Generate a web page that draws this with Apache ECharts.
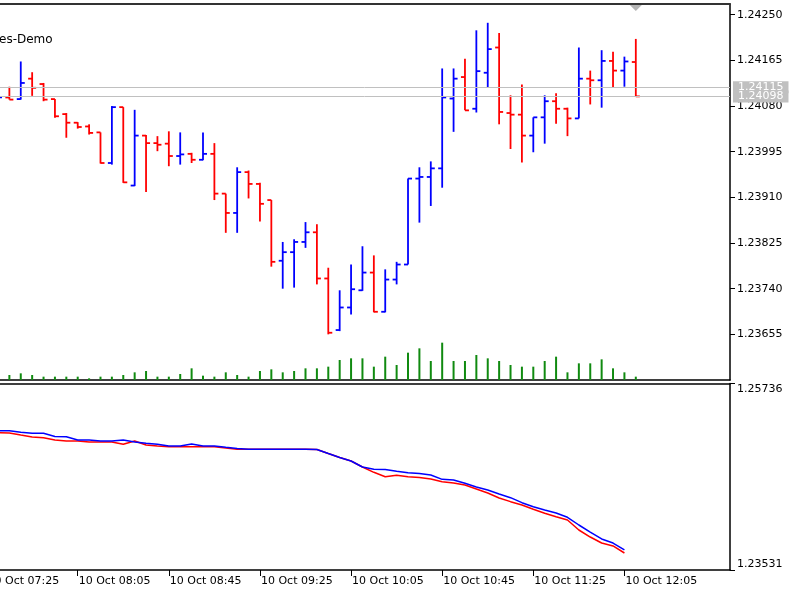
<!DOCTYPE html>
<html lang="en">
<head>
    <meta charset="UTF-8">
    <title>M5 bars</title>
    <script type="text/javascript" src="https://cdn.jsdelivr.net/npm/echarts@6/dist/echarts.min.js"></script>
    <style>
        html, body { margin: 0; padding: 0; background: #fff; }
    </style>
</head>
<body>

<div id="chart" style="width:800px;height:600px;"></div>

<script type="text/javascript">
    // bar times, 10 Oct, one bar every 5 minutes (index 1 = 07:30)
    var times = ['07:30', '07:35', '07:40', '07:45', '07:50', '07:55', '08:00', '08:05', '08:10', '08:15',
        '08:20', '08:25', '08:30', '08:35', '08:40', '08:45', '08:50', '08:55', '09:00', '09:05',
        '09:10', '09:15', '09:20', '09:25', '09:30', '09:35', '09:40', '09:45', '09:50', '09:55',
        '10:00', '10:05', '10:10', '10:15', '10:20', '10:25', '10:30', '10:35', '10:40', '10:45',
        '10:50', '10:55', '11:00', '11:05', '11:10', '11:15', '11:20', '11:25', '11:30', '11:35',
        '11:40', '11:45', '11:50', '11:55', '12:00', '12:05', '12:10'];

    var open = [1.24092, 1.24096, 1.24093, 1.24131, 1.24121, 1.24093, 1.24065, 1.24049, 1.24042, 1.24031,
        1.23974, 1.24078, 1.23932, 1.24025, 1.24011, 1.24010, 1.23987, 1.23991, 1.23980, 1.23991,
        1.23917, 1.23881, 1.23957, 1.23935, 1.23905, 1.23792, 1.23808, 1.23827, 1.23845, 1.23759,
        1.23663, 1.23705, 1.23737, 1.23770, 1.23697, 1.23757, 1.23785, 1.23945, 1.23948, 1.23964,
        1.24094, 1.24134, 1.24075, 1.24142, 1.24189, 1.24067, 1.24064, 1.24025, 1.24059, 1.24089,
        1.24075, 1.24057, 1.24131, 1.24128, 1.24164, 1.24146, 1.24162];
    var high = [1.24107, 1.24116, 1.24163, 1.24143, 1.24123, 1.24093, 1.24067, 1.24050, 1.24046, 1.24031,
        1.24080, 1.24078, 1.24073, 1.24026, 1.24024, 1.24033, 1.24031, 1.23993, 1.24031, 1.24011,
        1.23917, 1.23966, 1.23960, 1.23937, 1.23905, 1.23827, 1.23832, 1.23864, 1.23860, 1.23779,
        1.23737, 1.23785, 1.23819, 1.23802, 1.23776, 1.23790, 1.23945, 1.23966, 1.23977, 1.24150,
        1.24150, 1.24168, 1.24221, 1.24235, 1.24216, 1.24100, 1.24120, 1.24059, 1.24100, 1.24104,
        1.24077, 1.24189, 1.24146, 1.24184, 1.24181, 1.24172, 1.24205];
    var low = [1.24090, 1.24092, 1.24092, 1.24099, 1.24089, 1.24058, 1.24021, 1.24038, 1.24027, 1.23973,
        1.23971, 1.23937, 1.23931, 1.23920, 1.23996, 1.23968, 1.23971, 1.23974, 1.23979, 1.23905,
        1.23844, 1.23844, 1.23908, 1.23865, 1.23781, 1.23740, 1.23742, 1.23816, 1.23748, 1.23655,
        1.23661, 1.23692, 1.23736, 1.23696, 1.23696, 1.23748, 1.23785, 1.23863, 1.23894, 1.23928,
        1.24032, 1.24072, 1.24068, 1.24114, 1.24046, 1.24000, 1.23975, 1.23994, 1.24010, 1.24047,
        1.24024, 1.24057, 1.24083, 1.24077, 1.24114, 1.24116, 1.24098];
    var close = [1.24096, 1.24092, 1.24123, 1.24114, 1.24092, 1.24061, 1.24049, 1.24041, 1.24030, 1.23974,
        1.24078, 1.23938, 1.24025, 1.24011, 1.24008, 1.23987, 1.23990, 1.23980, 1.23991, 1.23917,
        1.23881, 1.23957, 1.23935, 1.23898, 1.23790, 1.23808, 1.23827, 1.23845, 1.23759, 1.23658,
        1.23705, 1.23739, 1.23770, 1.23697, 1.23757, 1.23785, 1.23945, 1.23948, 1.23964, 1.24096,
        1.24131, 1.24072, 1.24145, 1.24186, 1.24069, 1.24064, 1.24025, 1.24059, 1.24089, 1.24075,
        1.24057, 1.24131, 1.24128, 1.24164, 1.24146, 1.24163, 1.24098];
    var volume = [10, 15, 20, 15, 10, 10, 10, 10, 5, 10,
        10, 15, 23, 27, 10, 10, 18, 35, 13, 10,
        23, 15, 10, 27, 32, 23, 27, 35, 35, 40,
        60, 65, 65, 40, 70, 45, 82, 95, 57, 112,
        57, 57, 75, 65, 57, 45, 40, 40, 57, 70,
        23, 50, 50, 62, 35, 23, 10];

    // indicator window, 07:30 .. 12:05
    var blueLine = [1.25178, 1.25178, 1.25159, 1.25147, 1.25147, 1.25109, 1.25107, 1.25068, 1.25068, 1.25056,
        1.25056, 1.25068, 1.25044, 1.25029, 1.25017, 1.24997, 1.24997, 1.25021, 1.24997, 1.24997,
        1.24982, 1.24968, 1.24958, 1.24958, 1.24958, 1.24958, 1.24958, 1.24958, 1.24956, 1.24908,
        1.24861, 1.24820, 1.24749, 1.24722, 1.24719, 1.24698, 1.24681, 1.24672, 1.24654, 1.24603,
        1.24595, 1.24556, 1.24512, 1.24477, 1.24430, 1.24386, 1.24327, 1.24279, 1.24240, 1.24205,
        1.24154, 1.24063, 1.23980, 1.23898, 1.23850, 1.23768];
    var redLine = [1.25154, 1.25151, 1.25127, 1.25104, 1.25095, 1.25068, 1.25056, 1.25056, 1.25044, 1.25044,
        1.25044, 1.25017, 1.25056, 1.25009, 1.24997, 1.24989, 1.24989, 1.24989, 1.24989, 1.24989,
        1.24973, 1.24958, 1.24958, 1.24958, 1.24958, 1.24958, 1.24958, 1.24958, 1.24956, 1.24908,
        1.24861, 1.24820, 1.24749, 1.24686, 1.24634, 1.24651, 1.24634, 1.24625, 1.24607, 1.24575,
        1.24560, 1.24536, 1.24489, 1.24441, 1.24382, 1.24339, 1.24300, 1.24249, 1.24201, 1.24161,
        1.24122, 1.24004, 1.23921, 1.23850, 1.23815, 1.23732];

    var priceTicks = [1.23655, 1.23740, 1.23825, 1.23910, 1.23995, 1.24080, 1.24165, 1.24250];
    var subTicks = [1.23531, 1.25736];
    var timeTickIndex = [0, 8, 16, 24, 32, 40, 48, 56];
    var timeTickLabels = ['10 Oct 07:25', '10 Oct 08:05', '10 Oct 08:45', '10 Oct 09:25',
        '10 Oct 10:05', '10 Oct 10:45', '10 Oct 11:25', '10 Oct 12:05'];
    var ask = 1.24115;
    var bid = 1.24098;

    var FONT = 'DejaVu Sans';
    var BLUE = '#0000ff';
    var RED = '#ff0000';

    // bar i sits at x index i+1 (index 0 = 07:25, off the left edge)
    var ohlc = [], vol = [], blueData = [], redData = [];
    for (var i = 0; i < times.length; i++) {
        ohlc.push([i + 1, open[i], high[i], low[i], close[i]]);
        vol.push([i + 1, volume[i]]);
    }
    for (var j = 0; j < blueLine.length; j++) {
        blueData.push([j + 1, blueLine[j]]);
        redData.push([j + 1, redLine[j]]);
    }

    function renderBar(params, api) {
        var x = api.value(0);
        var o = api.coord([x, api.value(1)]);
        var h = api.coord([x, api.value(2)]);
        var l = api.coord([x, api.value(3)]);
        var c = api.coord([x, api.value(4)]);
        var color = api.value(4) >= api.value(1) ? BLUE : RED;
        var st = {stroke: color, lineWidth: 1.8};
        return {
            type: 'group',
            children: [
                {type: 'line', shape: {x1: h[0], y1: h[1], x2: l[0], y2: l[1]}, style: st},
                {type: 'line', shape: {x1: o[0] - 4, y1: o[1], x2: o[0], y2: o[1]}, style: st},
                {type: 'line', shape: {x1: c[0], y1: c[1], x2: c[0] + 4, y2: c[1]}, style: st}
            ]
        };
    }

    var xMin = -0.5, xMax = 65.27;
    var lineBlack = {show: true, onZero: false, lineStyle: {color: '#000', width: 1.5}};

    var dom = document.getElementById('chart');
    var myChart = echarts.init(dom);
    var option = {
        animation: false,
        backgroundColor: '#fff',
        textStyle: {fontFamily: FONT},
        title: {
            text: 'es-Demo',
            left: -1,
            top: 34,
            padding: 0,
            textStyle: {fontFamily: FONT, fontSize: 12, fontWeight: 'normal', color: '#000'}
        },
        grid: [
            {left: -19.1, right: 70, top: 4, height: 376, outerBoundsMode: 'none', containLabel: false},
            {left: -19.1, right: 70, top: 383.5, height: 186.5, outerBoundsMode: 'none', containLabel: false}
        ],
        xAxis: [
            {type: 'value', gridIndex: 0, position: 'bottom', min: xMin, max: xMax,
                axisLine: lineBlack, axisTick: {show: false}, axisLabel: {show: false}, splitLine: {show: false}},
            {type: 'value', gridIndex: 0, position: 'top', min: xMin, max: xMax,
                axisLine: {show: true, onZero: false, lineStyle: {color: '#333', width: 2}},
                axisTick: {show: false}, axisLabel: {show: false}, splitLine: {show: false}},
            {type: 'value', gridIndex: 1, position: 'bottom', min: xMin, max: xMax,
                axisLine: lineBlack,
                axisTick: {show: true, length: 6, lineStyle: {color: '#000'}, customValues: timeTickIndex},
                axisLabel: {
                    show: true, customValues: timeTickIndex, align: 'left', margin: 6,
                    padding: [0, 0, 0, 1], color: '#000', fontSize: 11, fontFamily: FONT,
                    formatter: function (v) {
                        var k = timeTickIndex.indexOf(Math.round(v));
                        return k >= 0 ? timeTickLabels[k] : '';
                    }
                },
                splitLine: {show: false}},
            {type: 'value', gridIndex: 1, position: 'top', min: xMin, max: xMax,
                axisLine: lineBlack, axisTick: {show: false}, axisLabel: {show: false}, splitLine: {show: false}}
        ],
        yAxis: [
            {type: 'value', gridIndex: 0, position: 'right', min: 1.23570, max: 1.24270,
                axisLine: lineBlack,
                axisTick: {show: true, length: 5, lineStyle: {color: '#000'}, customValues: priceTicks},
                axisLabel: {
                    show: true, customValues: priceTicks, margin: 7, color: '#000', fontSize: 11, fontFamily: FONT,
                    formatter: function (v) { return v.toFixed(5); }
                },
                splitLine: {show: false}},
            {type: 'value', gridIndex: 0, min: 0, max: 1128, show: false, splitLine: {show: false}},
            {type: 'value', gridIndex: 1, position: 'right', min: subTicks[0], max: subTicks[1],
                axisLine: lineBlack,
                axisTick: {show: true, length: 5, lineStyle: {color: '#000'}, customValues: subTicks},
                axisLabel: {
                    show: true, customValues: subTicks, margin: 7, color: '#000', fontSize: 11, fontFamily: FONT,
                    verticalAlignMinLabel: 'bottom', verticalAlignMaxLabel: 'top',
                    formatter: function (v) { return v.toFixed(5); }
                },
                splitLine: {show: false}}
        ],
        series: [
            {
                name: 'volume',
                type: 'bar',
                xAxisIndex: 0,
                yAxisIndex: 1,
                barWidth: 2,
                itemStyle: {color: '#108a10'},
                data: vol
            },
            {
                name: 'bars',
                type: 'custom',
                xAxisIndex: 0,
                yAxisIndex: 0,
                clip: true,
                renderItem: renderBar,
                encode: {x: 0, y: [1, 2, 3, 4]},
                data: ohlc,
                markPoint: {
                    silent: true,
                    label: {show: false},
                    data: [{
                        coord: [times.length, 1.24270],
                        symbol: 'triangle', symbolSize: [12, 6], symbolRotate: 180, symbolOffset: [0, 4],
                        itemStyle: {color: '#b4b4b4'}
                    }]
                }
            },
            {
                // last price point, carries the ask / bid lines
                name: 'price',
                type: 'line',
                xAxisIndex: 0,
                yAxisIndex: 0,
                symbol: 'none',
                lineStyle: {opacity: 0},
                data: [[times.length, bid]],
                markLine: {
                    silent: true,
                    precision: 5,
                    symbol: ['none', 'none'],
                    lineStyle: {color: '#c0c0c0', width: 1, type: 'solid'},
                    label: {
                        position: 'end', distance: 3, color: '#fff', backgroundColor: '#c0c0c0',
                        fontSize: 11, fontFamily: FONT, padding: [1, 5, 0, 5],
                        formatter: function (p) { return Number(p.value).toFixed(5); }
                    },
                    data: [{yAxis: ask}, {yAxis: bid}]
                }
            },
            {
                name: 'red',
                type: 'line',
                xAxisIndex: 2,
                yAxisIndex: 2,
                symbol: 'none',
                lineStyle: {color: RED, width: 1.5},
                data: redData
            },
            {
                name: 'blue',
                type: 'line',
                xAxisIndex: 2,
                yAxisIndex: 2,
                symbol: 'none',
                lineStyle: {color: BLUE, width: 1.5},
                data: blueData
            }
        ]
    };

    if (option && typeof option === 'object') {
        myChart.setOption(option, true);
    }
</script>
</body>
</html>
